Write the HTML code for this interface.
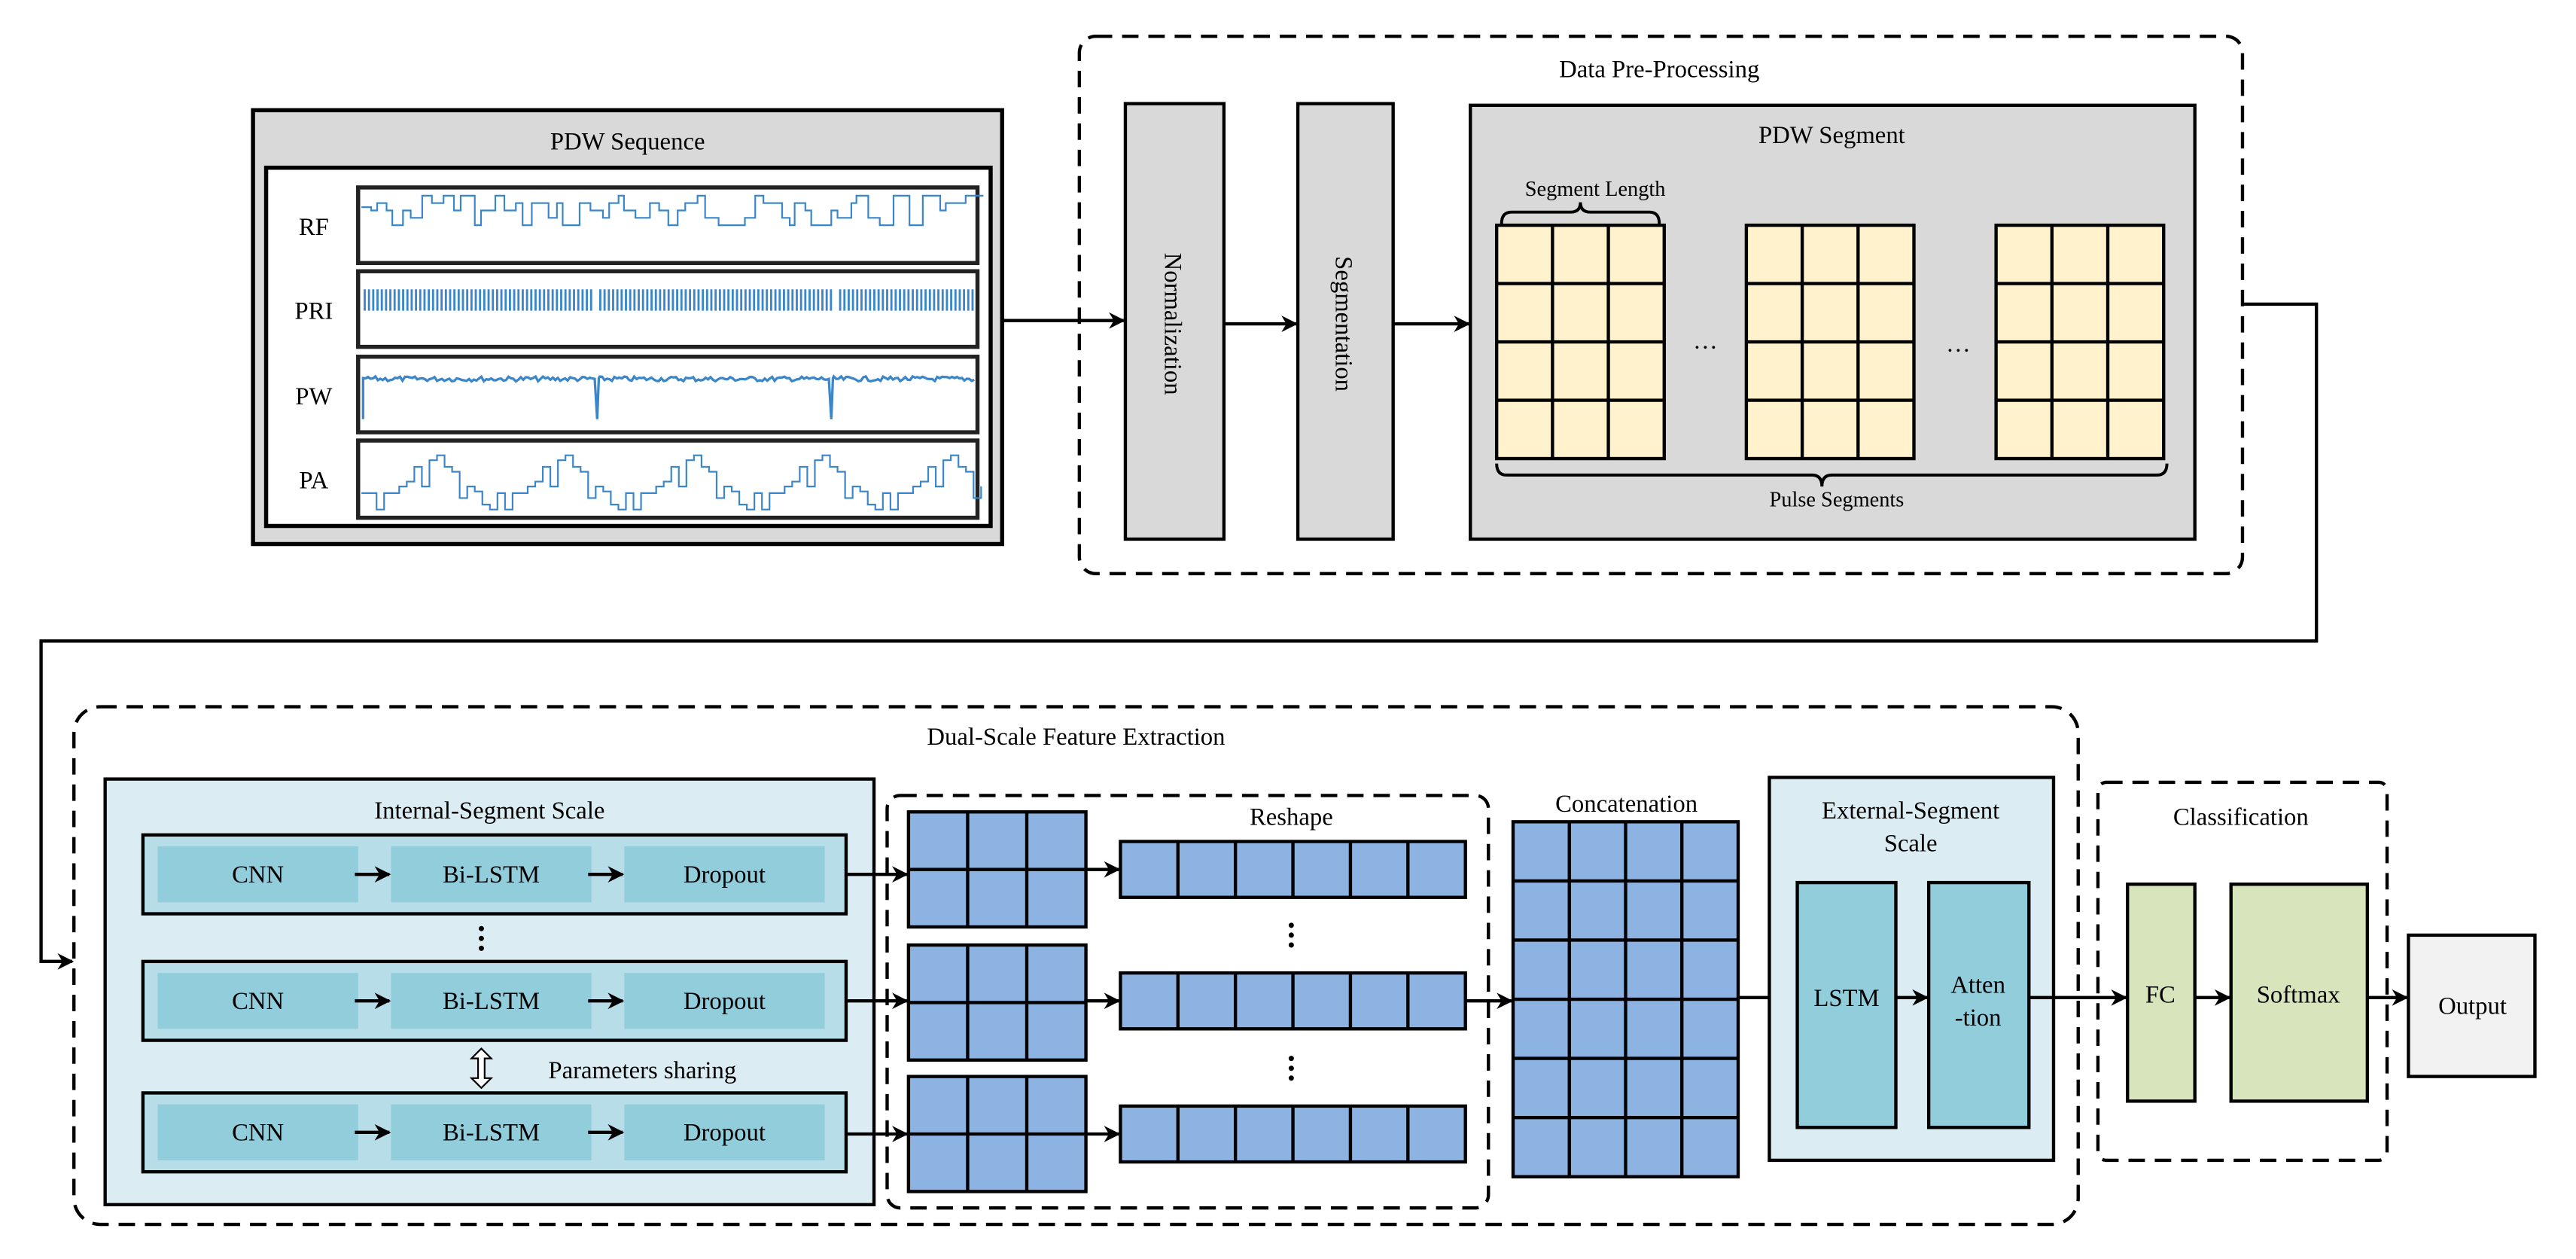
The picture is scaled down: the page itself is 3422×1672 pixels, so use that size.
<!DOCTYPE html>
<html><head><meta charset="utf-8"><style>
html,body{margin:0;padding:0;background:#fff;}
svg{display:block;}
svg text{font-family:"Liberation Serif","DejaVu Serif","Times New Roman",serif;fill:#000;}
</style></head><body>
<svg id="s" width="3422" height="1672" viewBox="0 0 1568 766" xmlns="http://www.w3.org/2000/svg" font-family="Liberation Serif, DejaVu Serif, serif">
<defs>
<marker id="a" markerWidth="10" markerHeight="10" refX="9" refY="5" orient="auto" markerUnits="userSpaceOnUse">
<path d="M0,0 L10,5 L0,10 L3,5 z" fill="#000"/></marker>
</defs>
<rect width="1568" height="766" fill="#fff"/>

<rect x="154" y="67" width="456" height="264" fill="#d9d9d9" stroke="#000" stroke-width="2.5"/>
<text x="382" y="91" font-size="15" text-anchor="middle">PDW Sequence</text>
<rect x="162" y="102" width="441" height="218" fill="#fff" stroke="#000" stroke-width="2.5"/>
<g stroke="#222" stroke-width="2.5" fill="#fff">
<rect x="218" y="114" width="377" height="46"/>
<rect x="218" y="165" width="377" height="46"/>
<rect x="218" y="217" width="377" height="46"/>
<rect x="218" y="268" width="377" height="47"/>
</g>
<g font-size="15" text-anchor="middle">
<text x="191" y="143">RF</text><text x="191" y="194">PRI</text><text x="191" y="246">PW</text><text x="191" y="297">PA</text>
</g>
<g id="waves" fill="none" stroke="#3a86c8" stroke-width="1"></g>
<line x1="610" y1="195" x2="684" y2="195" stroke="#000" stroke-width="2" marker-end="url(#a)"/>

<rect x="657" y="22" width="708" height="327" rx="10" fill="none" stroke="#000" stroke-width="2" stroke-dasharray="10,6"/>
<text x="1010" y="47" font-size="15" text-anchor="middle">Data Pre-Processing</text>
<rect x="685" y="63" width="60" height="265" fill="#d9d9d9" stroke="#000" stroke-width="2"/>
<text transform="translate(709,197) rotate(90)" font-size="15" text-anchor="middle">Normalization</text>
<line x1="745" y1="197" x2="789" y2="197" stroke="#000" stroke-width="2" marker-end="url(#a)"/>
<rect x="790" y="63" width="58" height="265" fill="#d9d9d9" stroke="#000" stroke-width="2"/>
<text transform="translate(813,197) rotate(90)" font-size="15" text-anchor="middle">Segmentation</text>
<line x1="848" y1="197" x2="894" y2="197" stroke="#000" stroke-width="2" marker-end="url(#a)"/>
<rect x="895" y="64" width="441" height="264" fill="#d9d9d9" stroke="#000" stroke-width="2"/>
<text x="1115" y="87" font-size="15" text-anchor="middle">PDW Segment</text>
<g id="segs"></g>
<text x="971" y="119" font-size="13" text-anchor="middle">Segment Length</text>
<path d="M914,136 q0,-7 6,-7 h36 q6,0 6,-6 q0,6 6,6 h36 q6,0 6,7" fill="none" stroke="#000" stroke-width="1.8"/>
<path d="M911,282 q0,7 6,7 h186 q6,0 6,7 q0,-7 6,-7 h198 q6,0 6,-7" fill="none" stroke="#000" stroke-width="1.8"/>
<text x="1118" y="308" font-size="13" text-anchor="middle">Pulse Segments</text>
<text x="1038" y="212" font-size="15" text-anchor="middle">…</text>
<text x="1192" y="214" font-size="15" text-anchor="middle">…</text>

<polyline points="1365,185 1410,185 1410,390 25,390 25,585 44,585" fill="none" stroke="#000" stroke-width="2" marker-end="url(#a)"/>

<rect x="45" y="430" width="1220" height="315" rx="16" fill="none" stroke="#000" stroke-width="2" stroke-dasharray="10,6"/>
<text x="655" y="453" font-size="15" text-anchor="middle">Dual-Scale Feature Extraction</text>
<rect x="64" y="474" width="468" height="259" fill="#dbedf3" stroke="#000" stroke-width="2"/>
<text x="298" y="498" font-size="15" text-anchor="middle">Internal-Segment Scale</text>
<g id="rows"></g>
<g fill="#000"><circle cx="293" cy="565" r="1.6"/><circle cx="293" cy="571" r="1.6"/><circle cx="293" cy="577" r="1.6"/></g>
<path d="M293,638 l-6,6 h4 v12 h-4 l6,6 l6,-6 h-4 v-12 h4 z" fill="#fff" stroke="#000" stroke-width="1"/>
<text x="391" y="656" font-size="15" text-anchor="middle">Parameters sharing</text>

<rect x="540" y="484" width="366" height="251" rx="8" fill="none" stroke="#000" stroke-width="2" stroke-dasharray="10,6"/>
<text x="786" y="502" font-size="15" text-anchor="middle">Reshape</text>
<g id="reshape"></g>
<g fill="#000"><circle cx="786" cy="563" r="1.6"/><circle cx="786" cy="569" r="1.6"/><circle cx="786" cy="575" r="1.6"/>
<circle cx="786" cy="644" r="1.6"/><circle cx="786" cy="650" r="1.6"/><circle cx="786" cy="656" r="1.6"/></g>
<line x1="892" y1="609" x2="920" y2="609" stroke="#000" stroke-width="2" marker-end="url(#a)"/>
<text x="990" y="494" font-size="15" text-anchor="middle">Concatenation</text>
<g id="concat"></g>
<line x1="1058" y1="607" x2="1093" y2="607" stroke="#000" stroke-width="2" marker-end="url(#a)"/>

<rect x="1077" y="473" width="173" height="233" fill="#dbedf3" stroke="#000" stroke-width="2"/>
<text x="1163" y="498" font-size="15" text-anchor="middle">External-Segment</text>
<text x="1163" y="518" font-size="15" text-anchor="middle">Scale</text>
<rect x="1094" y="537" width="60" height="149" fill="#92cddc" stroke="#000" stroke-width="2"/>
<text x="1124" y="612" font-size="15" text-anchor="middle">LSTM</text>
<line x1="1154" y1="607" x2="1173" y2="607" stroke="#000" stroke-width="2" marker-end="url(#a)"/>
<rect x="1174" y="537" width="61" height="149" fill="#92cddc" stroke="#000" stroke-width="2"/>
<text x="1204" y="604" font-size="15" text-anchor="middle">Atten</text>
<text x="1204" y="624" font-size="15" text-anchor="middle">-tion</text>
<line x1="1235" y1="607" x2="1294" y2="607" stroke="#000" stroke-width="2" marker-end="url(#a)"/>

<rect x="1277" y="476" width="176" height="230" rx="5" fill="none" stroke="#000" stroke-width="2" stroke-dasharray="10,6"/>
<text x="1364" y="502" font-size="15" text-anchor="middle">Classification</text>
<rect x="1295" y="538" width="41" height="132" fill="#d8e4bc" stroke="#000" stroke-width="2"/>
<text x="1315" y="610" font-size="15" text-anchor="middle">FC</text>
<line x1="1336" y1="607" x2="1357" y2="607" stroke="#000" stroke-width="2" marker-end="url(#a)"/>
<rect x="1358" y="538" width="83" height="132" fill="#d8e4bc" stroke="#000" stroke-width="2"/>
<text x="1399" y="610" font-size="15" text-anchor="middle">Softmax</text>
<line x1="1441" y1="607" x2="1465" y2="607" stroke="#000" stroke-width="2" marker-end="url(#a)"/>
<rect x="1466" y="569" width="77" height="86" fill="#f2f2f2" stroke="#000" stroke-width="2"/>
<text x="1505" y="617" font-size="15" text-anchor="middle">Output</text>
</svg>
<script>
var NS="http://www.w3.org/2000/svg";
function el(p,t,a){var e=document.createElementNS(NS,t);for(var k in a)e.setAttribute(k,a[k]);p.appendChild(e);return e;}
function grid(p,x,y,cols,rows,w,h,fill){
 el(p,"rect",{x:x,y:y,width:cols*w,height:rows*h,fill:fill,stroke:"#000","stroke-width":2});
 for(var i=1;i<cols;i++)el(p,"line",{x1:x+i*w,y1:y,x2:x+i*w,y2:y+rows*h,stroke:"#000","stroke-width":2});
 for(var j=1;j<rows;j++)el(p,"line",{x1:x,y1:y+j*h,x2:x+cols*w,y2:y+j*h,stroke:"#000","stroke-width":2});
}
var sg=document.getElementById("segs");
[911,1063,1215].forEach(function(x){grid(sg,x,137,3,4,34,35.5,"#fff2cc");});
var rs=document.getElementById("reshape");
[[494,512],[575,592],[655,673]].forEach(function(r){
 grid(rs,553,r[0],3,2,36,35,"#8db3e2");
 grid(rs,682,r[1],6,1,35,34,"#8db3e2");
 el(rs,"line",{x1:660,y1:r[1]+17,x2:681,y2:r[1]+17,stroke:"#000","stroke-width":2,"marker-end":"url(#a)"});
});
grid(document.getElementById("concat"),921,500,4,6,34.25,36,"#8db3e2");
var rw=document.getElementById("rows");
[[508,532],[585,609],[665,690]].forEach(function(r){
 el(rw,"rect",{x:87,y:r[0],width:428,height:48,fill:"#b7dde8",stroke:"#000","stroke-width":2});
 var names=["CNN","Bi-LSTM","Dropout"],xs=[96,238,380];
 for(var i=0;i<3;i++){
  el(rw,"rect",{x:xs[i],y:r[0]+7,width:122,height:34,fill:"#92cddc"});
  var t=el(rw,"text",{x:xs[i]+61,y:r[0]+29,"font-size":15,"text-anchor":"middle","font-family":"Liberation Serif, DejaVu Serif, serif"});t.textContent=names[i];
 }
 el(rw,"line",{x1:216,y1:r[0]+24,x2:237,y2:r[0]+24,stroke:"#000","stroke-width":2,"marker-end":"url(#a)"});
 el(rw,"line",{x1:358,y1:r[0]+24,x2:379,y2:r[0]+24,stroke:"#000","stroke-width":2,"marker-end":"url(#a)"});
 el(rw,"line",{x1:515,y1:r[1],x2:552,y2:r[1],stroke:"#000","stroke-width":2,"marker-end":"url(#a)"});
});
var seed=7;function rnd(){seed=(seed*9301+49297)%233280;return seed/233280;}
var wv=document.getElementById("waves");
var d="M220,126",x=220,y=126;
while(x<593){x+=3+rnd()*6;d+=" H"+x.toFixed(1);y=119+Math.floor(rnd()*5)*4.5;d+=" V"+y.toFixed(1);}
el(wv,"path",{d:d});
d="M220,179";x=222;
while(x<593){ if(Math.abs(x-363)<2||Math.abs(x-508)<2){x+=3;continue;} d+=" M"+x.toFixed(1)+",189 V176";x+=2.6;}
el(wv,"path",{d:d,"stroke-width":1.3});
d="M221,255 V230";x=221;
while(x<593){x+=1.5;var yy=229+rnd()*3;if(Math.abs(x-363)<1||Math.abs(x-506)<1){d+=" L"+x.toFixed(1)+",255 L"+(x+1).toFixed(1)+",230";}else d+=" L"+x.toFixed(1)+","+yy.toFixed(1);}
el(wv,"path",{d:d,"stroke-width":1.5});
var pat=[300,310,300,300,296,293,284,296,280,277,284,287,303,296,299,307,310],xp=220;d="M220,300";var k=0;
while(xp<593){xp+=4.6;d+=" H"+xp.toFixed(1)+" V"+pat[k%pat.length];k++;}
el(wv,"path",{d:d});
</script>
</body></html>
